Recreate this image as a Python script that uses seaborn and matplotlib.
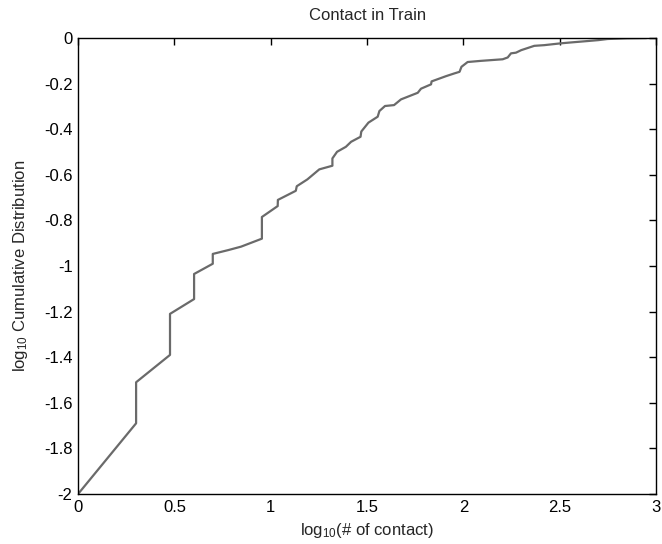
import numpy as np
import pandas as pd
import matplotlib
matplotlib.use("Agg")
import matplotlib.pyplot as plt
import seaborn as sns
from matplotlib.ticker import FuncFormatter

# values: log10(# of contact) vs log10 cumulative distribution
log_contact = [0.0, 0.301, 0.301, 0.477, 0.477, 0.602, 0.602, 0.699, 0.699, 0.78, 0.846,
               0.954, 0.954, 1.036, 1.037, 1.13, 1.135, 1.19, 1.252, 1.32, 1.32, 1.344,
               1.39, 1.417, 1.466, 1.47, 1.507, 1.555, 1.564, 1.593, 1.64, 1.676, 1.763,
               1.78, 1.832, 1.835, 1.91, 1.953, 1.98, 1.99, 2.022, 2.09, 2.204, 2.23,
               2.247, 2.273, 2.3, 2.368, 2.42, 2.506, 2.56, 2.645, 2.7, 2.749, 2.85, 2.95]
log_cdf = [-2.0, -1.69, -1.51, -1.39, -1.21, -1.145, -1.035, -0.99, -0.947, -0.93, -0.915,
           -0.88, -0.785, -0.737, -0.71, -0.67, -0.65, -0.62, -0.576, -0.56, -0.528, -0.499,
           -0.477, -0.455, -0.433, -0.41, -0.371, -0.345, -0.32, -0.298, -0.294, -0.269, -0.24,
           -0.222, -0.203, -0.19, -0.167, -0.155, -0.148, -0.126, -0.105, -0.1, -0.093, -0.085,
           -0.067, -0.064, -0.053, -0.034, -0.031, -0.023, -0.019, -0.013, -0.009, -0.004, -0.001, 0.0]

x_ticks = [0, 0.5, 1, 1.5, 2, 2.5, 3]
y_ticks = [0, -0.2, -0.4, -0.6, -0.8, -1, -1.2, -1.4, -1.6, -1.8, -2]

df = pd.DataFrame({"x": log_contact, "y": log_cdf})

sns.set_style("white")
plt.rcParams['font.family'] = ['Liberation Sans', 'DejaVu Sans']
plt.rcParams['axes.unicode_minus'] = False
plt.rcParams['mathtext.fontset'] = 'custom'
plt.rcParams['mathtext.rm'] = 'Liberation Sans'
plt.rcParams['mathtext.it'] = 'Liberation Sans'

fig = plt.figure(figsize=(6.62, 5.44), dpi=100)
ax = fig.add_axes([0.118, 0.092, 0.873, 0.838])

sns.lineplot(data=df, x="x", y="y", estimator=None, sort=False,
             color="#6a6a6a", linewidth=1.6, ax=ax)

ax.set_xlim(0, 3)
ax.set_ylim(-2, 0)
ax.set_xticks(x_ticks)
ax.set_yticks(y_ticks)
fmt = FuncFormatter(lambda v, p: "%g" % v)
ax.xaxis.set_major_formatter(fmt)
ax.yaxis.set_major_formatter(fmt)
ax.tick_params(direction="in", top=True, right=True, length=5, width=1,
               labelsize=12, colors="black", pad=4)

for s in ax.spines.values():
    s.set_color("black")
    s.set_linewidth(1.0)

ax.set_title("Contact in Train", fontsize=12, pad=13)
ax.set_xlabel("log$_{10}$(# of contact)", fontsize=12, labelpad=5)
ax.set_ylabel("log$_{10}$ Cumulative Distribution", fontsize=12, labelpad=10)

fig.savefig("out.png", dpi=100)
plt.close()
